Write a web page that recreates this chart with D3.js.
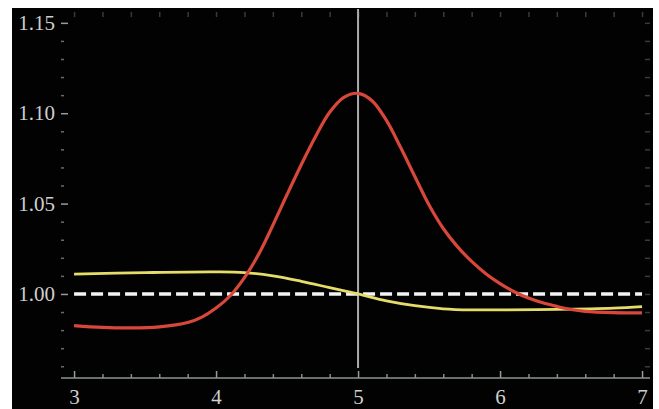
<!DOCTYPE html>
<html>
<head>
<meta charset="utf-8">
<script src="https://cdn.jsdelivr.net/npm/d3@7"></script>
<style>
  body { margin: 0; background: #fff; }
  text { font-family: "Liberation Serif", "DejaVu Serif", serif; }
</style>
</head>
<body>
<div id="my_dataviz"></div>
<script>
// data
var redX = [3.0, 3.2, 3.4, 3.6, 3.8, 3.9, 4.0, 4.1, 4.2, 4.3, 4.4, 4.5, 4.6, 4.7, 4.8, 4.9, 5.0,
            5.1, 5.2, 5.3, 5.4, 5.5, 5.6, 5.7, 5.8, 5.9, 6.0, 6.1, 6.2, 6.3, 6.4, 6.5, 6.6, 6.8, 7.0];
var redY = [0.9825, 0.9815, 0.9812, 0.9818, 0.9842, 0.9872, 0.9922, 0.9990, 1.0090, 1.0220, 1.0380,
            1.0550, 1.0715, 1.0870, 1.1005, 1.1088, 1.1110, 1.1068, 1.0960, 1.0810, 1.0650, 1.0492,
            1.0362, 1.0262, 1.0180, 1.0112, 1.0057, 1.0012, 0.9977, 0.9951, 0.9931, 0.9914, 0.9904,
            0.9897, 0.9895];
var yellowX = [3.0, 3.5, 4.0, 4.2, 4.4, 4.6, 4.8, 5.0, 5.2, 5.4, 5.6, 5.8, 6.0, 6.4, 6.8, 7.0];
var yellowY = [1.0110, 1.0118, 1.0122, 1.0118, 1.0100, 1.0070, 1.0035, 1.0000, 0.9962, 0.9935,
               0.9918, 0.9912, 0.9912, 0.9915, 0.9922, 0.9930];
var refLevel = 1.0;
var markerX = 5;
var xTickLabels = [3, 4, 5, 6, 7];
var yTickLabels = [1.00, 1.05, 1.10, 1.15];

var width = 659,
    height = 409,
    frame = {left: 61, right: 650, top: 12, bottom: 378};

var svg = d3.select("#my_dataviz")
  .append("svg")
    .attr("width", width)
    .attr("height", height);

// black plot panel
svg.append("rect")
    .attr("x", 12)
    .attr("y", 8)
    .attr("width", 641)
    .attr("height", height - 8)
    .attr("fill", "#020202");

var x = d3.scaleLinear()
  .domain([2.908, 7.056])
  .range([frame.left, frame.right]);

var y = d3.scaleLinear()
  .domain([0.9535, 1.156])
  .range([frame.bottom, frame.top]);

var minorX = d3.range(29, 71).map(function(d) { return d / 10; }).filter(function(d) { return Math.round(d * 10) % 2 == 0 && d % 1 != 0; });
var minorY = d3.range(954, 1156).map(function(d) { return d / 1000; }).filter(function(d) { return Math.round(d * 1000) % 10 == 0 && Math.round(d * 1000) % 50 != 0; });

function styleAxis(g, col) {
  g.select(".domain").remove();
  g.selectAll(".tick line").attr("stroke", col).attr("stroke-width", 1.5);
  g.selectAll(".tick text").attr("fill", "#cfcfcf").attr("font-size", 21);
}

// bottom axis
var bottom = svg.append("g").attr("transform", "translate(0," + frame.bottom + ")");
bottom.append("g")
    .call(d3.axisTop(x).tickValues(xTickLabels).tickSize(7).tickFormat(""))
    .call(styleAxis, "#9a9a9a");
bottom.append("g")
    .call(d3.axisTop(x).tickValues(minorX).tickSize(4).tickFormat(""))
    .call(styleAxis, "#8a8a8a");
bottom.append("g")
    .call(d3.axisBottom(x).tickValues(xTickLabels).tickSize(0).tickPadding(11).tickFormat(d3.format("d")))
    .call(styleAxis, "none");
bottom.append("line")
    .attr("x1", frame.left)
    .attr("x2", frame.right)
    .attr("stroke", "#8c9494")
    .attr("stroke-width", 1.5);

// left axis
var left = svg.append("g").attr("transform", "translate(" + frame.left + ",0)");
left.append("g")
    .call(d3.axisRight(y).tickValues(yTickLabels).tickSize(7).tickFormat(""))
    .call(styleAxis, "#9a9a9a");
left.append("g")
    .call(d3.axisRight(y).tickValues(minorY).tickSize(3).tickFormat(""))
    .call(styleAxis, "#6a6a6a");
left.append("g")
    .call(d3.axisLeft(y).tickValues(yTickLabels).tickSize(0).tickPadding(6).tickFormat(d3.format(".2f")))
    .call(styleAxis, "none");

// faint top and right ticks
svg.append("g")
    .attr("transform", "translate(0," + frame.top + ")")
    .call(d3.axisBottom(x).tickValues(xTickLabels.concat(minorX)).tickSize(5).tickFormat(""))
    .call(styleAxis, "#3a3a3a");
svg.append("g")
    .attr("transform", "translate(" + frame.right + ",0)")
    .call(d3.axisLeft(y).tickValues(yTickLabels.concat(minorY)).tickSize(5).tickFormat(""))
    .call(styleAxis, "#3a3a3a");

// vertical marker
svg.append("line")
    .attr("x1", x(markerX))
    .attr("x2", x(markerX))
    .attr("y1", 9)
    .attr("y2", 368)
    .attr("stroke", "#a9adad")
    .attr("stroke-width", 2);

// dashed reference at 1.00
svg.append("line")
    .attr("x1", x(3))
    .attr("x2", x(7))
    .attr("y1", y(refLevel))
    .attr("y2", y(refLevel))
    .attr("stroke", "#f4f4f4")
    .attr("stroke-width", 3.5)
    .attr("stroke-dasharray", "12,5");

var line = d3.line()
  .x(function(d) { return x(d[0]); })
  .y(function(d) { return y(d[1]); })
  .curve(d3.curveCatmullRom.alpha(0.5));

svg.append("path")
    .datum(yellowX.map(function(d, i) { return [d, yellowY[i]]; }))
    .attr("fill", "none")
    .attr("stroke", "#e6dc6a")
    .attr("stroke-width", 2.8)
    .attr("d", line);

svg.append("path")
    .datum(redX.map(function(d, i) { return [d, redY[i]]; }))
    .attr("fill", "none")
    .attr("stroke", "#d9473b")
    .attr("stroke-width", 3.2)
    .attr("d", line);
</script>
</body>
</html>
